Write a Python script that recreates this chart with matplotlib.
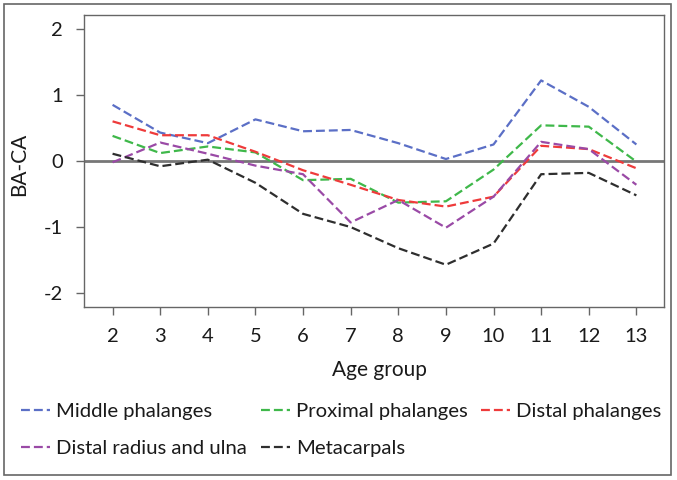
import matplotlib
matplotlib.use("Agg")
import matplotlib.pyplot as plt
from matplotlib.patches import Rectangle

plt.rcParams['font.family'] = ['Lato', 'DejaVu Sans']
plt.rcParams['axes.unicode_minus'] = False

age = [2, 3, 4, 5, 6, 7, 8, 9, 10, 11, 12, 13]
middle = [0.85, 0.43, 0.27, 0.63, 0.45, 0.47, 0.27, 0.03, 0.25, 1.22, 0.82, 0.25]
proximal = [0.38, 0.12, 0.22, 0.13, -0.29, -0.27, -0.63, -0.61, -0.13, 0.54, 0.52, -0.01]
distal = [0.60, 0.39, 0.39, 0.14, -0.14, -0.36, -0.59, -0.69, -0.54, 0.23, 0.18, -0.11]
radius = [-0.02, 0.28, 0.11, -0.07, -0.20, -0.93, -0.59, -1.01, -0.54, 0.29, 0.18, -0.36]
metacarpals = [0.11, -0.08, 0.02, -0.33, -0.80, -1.00, -1.32, -1.57, -1.25, -0.20, -0.18, -0.52]

series = [
    ("Middle phalanges", middle, "#5b6fc6"),
    ("Distal radius and ulna", radius, "#9a4aa6"),
    ("Proximal phalanges", proximal, "#3fb84a"),
    ("Metacarpals", metacarpals, "#2e2e2e"),
    ("Distal phalanges", distal, "#ee3b3b"),
]
draw_order = [0, 2, 4, 1, 3]

W, H = 677, 480
fig = plt.figure(figsize=(W/100, H/100), dpi=100)
ax = fig.add_axes([84/W, 1-307/H, (664-84)/W, (307-15)/H])

ax.axhline(0, color="#777777", lw=2.0, zorder=1)
handles = {}
for i in draw_order:
    name, vals, col = series[i]
    h, = ax.plot(age, vals, color=col, lw=1.6, dashes=(4, 1.8), label=name, zorder=2)
    handles[i] = h

ax.set_xlim(1.40, 13.58)
ax.set_ylim(-2.21, 2.21)
ax.set_xticks(age)
ax.set_yticks([-2, -1, 0, 1, 2])
for s in ax.spines.values():
    s.set_color("#666666")
    s.set_linewidth(1.0)
ax.tick_params(direction="out", length=6, width=1.0, color="#666666",
               labelsize=14.5, labelcolor="#1a1a1a")
ax.tick_params(axis="x", pad=9)
ax.tick_params(axis="y", pad=9)
ax.set_ylabel("BA-CA", fontsize=15, color="#1a1a1a")
ax.yaxis.set_label_coords(-0.095, 0.49)
ax.set_xlabel("Age group", fontsize=15, color="#1a1a1a")
ax.xaxis.set_label_coords((379-84)/580, -0.18)

leg = fig.legend([handles[i] for i in range(5)], [series[i][0] for i in range(5)],
                 ncol=3, loc="upper left", bbox_to_anchor=(21/W, 1-403/H),
                 frameon=False, fontsize=14.6, handlelength=1.45, handletextpad=0.3,
                 columnspacing=0.65, labelspacing=0.95, borderaxespad=0, borderpad=0,
                 labelcolor="#1a1a1a")

fig.add_artist(Rectangle((4/W, 5/H), (671-4)/W, (476-5)/H, transform=fig.transFigure,
                         fill=False, edgecolor="#666666", lw=1.2))

fig.savefig("out.png", dpi=100)
